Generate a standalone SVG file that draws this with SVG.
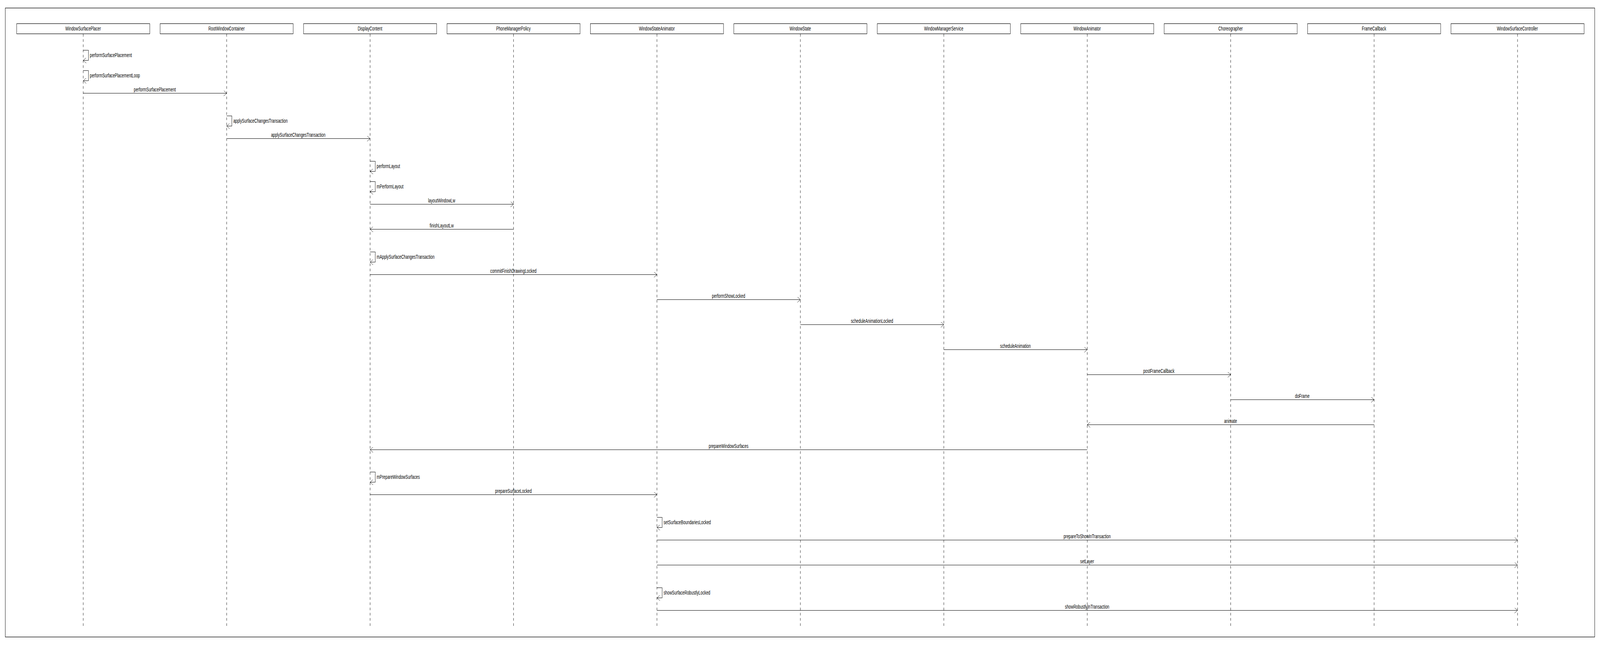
<svg xmlns="http://www.w3.org/2000/svg" width="6180" height="1650" viewBox="0 0 6180 1650" preserveAspectRatio="none" style="width:100vw;height:100vh">
<style>
.frame{fill:#fff;stroke:#000;stroke-width:1.3}
.box{fill:#fff;stroke:#000;stroke-width:1.2}
.life{stroke:#000;stroke-width:1;stroke-dasharray:6.67 6.67;fill:none}
.msg{stroke:#000;stroke-width:1.2;fill:none;marker-end:url(#arr)}
text{font-family:"Liberation Sans",Arial,sans-serif;font-size:14px;fill:#000}
.c{text-anchor:middle}
</style>
<defs>
<marker id="arr" markerUnits="userSpaceOnUse" markerWidth="14" markerHeight="14" viewBox="0 0 14 14" refX="12" refY="7" orient="auto">
<path d="M0.5,0 L12,7 L0.5,14" fill="none" stroke="#000" stroke-width="1"/>
</marker>
</defs>
<rect class="frame" x="20.5" y="20.5" width="6139" height="1609"/>
<g id="WindowSurfacePlacer"><rect class="box" x="64.5" y="60.5" width="514" height="26"/><text class="c" x="321" y="78">WindowSurfacePlacer</text><line class="life" x1="321.5" y1="87" x2="321.5" y2="1602"/></g>
<g id="RootWindowContainer"><rect class="box" x="618.5" y="60.5" width="514" height="26"/><text class="c" x="875" y="78">RootWindowContainer</text><line class="life" x1="875.5" y1="87" x2="875.5" y2="1602"/></g>
<g id="DisplayContent"><rect class="box" x="1172.5" y="60.5" width="514" height="26"/><text class="c" x="1429" y="78">DisplayContent</text><line class="life" x1="1429.5" y1="87" x2="1429.5" y2="1602"/></g>
<g id="PhoneManagerPolicy"><rect class="box" x="1726.5" y="60.5" width="514" height="26"/><text class="c" x="1983" y="78">PhoneManagerPolicy</text><line class="life" x1="1983.5" y1="87" x2="1983.5" y2="1602"/></g>
<g id="WindowStateAnimator"><rect class="box" x="2280.5" y="60.5" width="514" height="26"/><text class="c" x="2537" y="78">WindowStateAnimator</text><line class="life" x1="2537.5" y1="87" x2="2537.5" y2="1602"/></g>
<g id="WindowState"><rect class="box" x="2834.5" y="60.5" width="514" height="26"/><text class="c" x="3091" y="78">WindowState</text><line class="life" x1="3091.5" y1="87" x2="3091.5" y2="1602"/></g>
<g id="WindowManagerService"><rect class="box" x="3388.5" y="60.5" width="514" height="26"/><text class="c" x="3645" y="78">WindowManagerService</text><line class="life" x1="3645.5" y1="87" x2="3645.5" y2="1602"/></g>
<g id="WindowAnimator"><rect class="box" x="3942.5" y="60.5" width="514" height="26"/><text class="c" x="4199" y="78">WindowAnimator</text><line class="life" x1="4199.5" y1="87" x2="4199.5" y2="1602"/></g>
<g id="Choreographer"><rect class="box" x="4496.5" y="60.5" width="514" height="26"/><text class="c" x="4753" y="78">Choreographer</text><line class="life" x1="4753.5" y1="87" x2="4753.5" y2="1602"/></g>
<g id="FrameCallback"><rect class="box" x="5050.5" y="60.5" width="514" height="26"/><text class="c" x="5307" y="78">FrameCallback</text><line class="life" x1="5307.5" y1="87" x2="5307.5" y2="1602"/></g>
<g id="WindowSurfaceController"><rect class="box" x="5604.5" y="60.5" width="514" height="26"/><text class="c" x="5861" y="78">WindowSurfaceController</text><line class="life" x1="5861.5" y1="87" x2="5861.5" y2="1602"/></g>
<g id="connectors">
<path class="msg" d="M321.5,128.5 H341.5 V154.5 H321.5"/><text x="347" y="146">performSurfacePlacement</text>
<path class="msg" d="M321.5,180.5 H341.5 V206.5 H321.5"/><text x="347" y="198">performSurfacePlacementLoop</text>
<path class="msg" d="M321.5,238.5 H875.5"/><text class="c" x="598" y="234">performSurfacePlacement</text>
<path class="msg" d="M875.5,296.5 H895.5 V322.5 H875.5"/><text x="901" y="314">applySurfaceChangesTransaction</text>
<path class="msg" d="M875.5,354.5 H1429.5"/><text class="c" x="1152" y="350">applySurfaceChangesTransaction</text>
<path class="msg" d="M1429.5,412.5 H1449.5 V438.5 H1429.5"/><text x="1455" y="430">performLayout</text>
<path class="msg" d="M1429.5,464.5 H1449.5 V490.5 H1429.5"/><text x="1455" y="482">mPerformLayout</text>
<path class="msg" d="M1429.5,522.5 H1983.5"/><text class="c" x="1706" y="518">layoutWindowLw</text>
<path class="msg" d="M1983.5,586.5 H1429.5"/><text class="c" x="1706" y="582">finishLayoutLw</text>
<path class="msg" d="M1429.5,644.5 H1449.5 V670.5 H1429.5"/><text x="1455" y="662">mApplySurfaceChangesTransaction</text>
<path class="msg" d="M1429.5,702.5 H2537.5"/><text class="c" x="1983" y="698">commitFinishDrawingLocked</text>
<path class="msg" d="M2537.5,766.5 H3091.5"/><text class="c" x="2814" y="762">performShowLocked</text>
<path class="msg" d="M3091.5,830.5 H3645.5"/><text class="c" x="3368" y="826">scheduleAnimationLocked</text>
<path class="msg" d="M3645.5,894.5 H4199.5"/><text class="c" x="3922" y="890">scheduleAnimation</text>
<path class="msg" d="M4199.5,958.5 H4753.5"/><text class="c" x="4476" y="954">postFrameCallback</text>
<path class="msg" d="M4753.5,1022.5 H5307.5"/><text class="c" x="5030" y="1018">doFrame</text>
<path class="msg" d="M5307.5,1086.5 H4199.5"/><text class="c" x="4753" y="1082">animate</text>
<path class="msg" d="M4199.5,1150.5 H1429.5"/><text class="c" x="2814" y="1146">prepareWindowSurfaces</text>
<path class="msg" d="M1429.5,1207.5 H1449.5 V1233.5 H1429.5"/><text x="1455" y="1225">mPrepareWindowSurfaces</text>
<path class="msg" d="M1429.5,1265.5 H2537.5"/><text class="c" x="1983" y="1261">prepareSurfaceLocked</text>
<path class="msg" d="M2537.5,1323.5 H2557.5 V1349.5 H2537.5"/><text x="2563" y="1341">setSurfaceBoundariesLocked</text>
<path class="msg" d="M2537.5,1381.5 H5861.5"/><text class="c" x="4199" y="1377">prepareToShowInTransaction</text>
<path class="msg" d="M2537.5,1445.5 H5861.5"/><text class="c" x="4199" y="1441">setLayer</text>
<path class="msg" d="M2537.5,1503.5 H2557.5 V1529.5 H2537.5"/><text x="2563" y="1521">showSurfaceRobustlyLocked</text>
<path class="msg" d="M2537.5,1561.5 H5861.5"/><text class="c" x="4199" y="1557">showRobustlyInTransaction</text>
</g>
</svg>
